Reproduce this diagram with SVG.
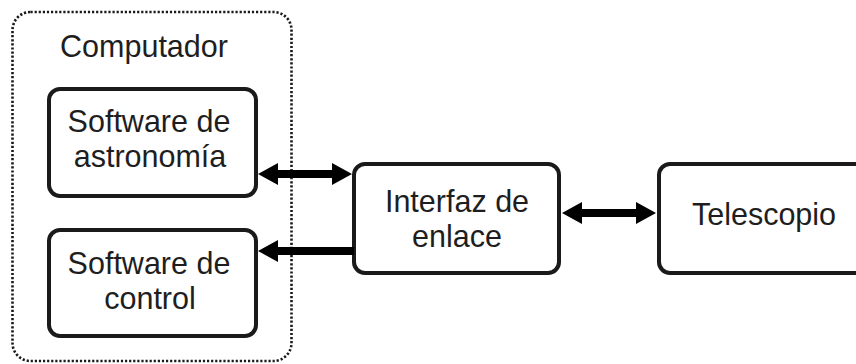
<svg xmlns="http://www.w3.org/2000/svg" width="856" height="364" viewBox="0 0 856 364">
  <style>
    .box { fill: #ffffff; stroke: #1a1a1a; stroke-width: 4; }
    .group { fill: none; stroke: #1a1a1a; stroke-width: 2.6; stroke-dasharray: 2.2 1.9; }
    .label { font-family: "Liberation Sans", Arial, sans-serif; font-size: 30.5px; fill: #1e1e1e; text-anchor: middle; }
    .arrow { fill: #000000; }
  </style>
  <rect width="856" height="364" fill="#ffffff"/>

  <g id="computador">
    <rect class="group" x="12.5" y="12" width="279" height="349" rx="18"/>
    <text class="label" x="144" y="57">Computador</text>
  </g>

  <g id="software-astronomia">
    <rect class="box" x="49" y="89" width="207" height="107" rx="11"/>
    <text class="label" x="149" y="132">Software de</text>
    <text class="label" x="150" y="167">astronomía</text>
  </g>

  <g id="software-control">
    <rect class="box" x="49" y="230" width="207" height="106" rx="11"/>
    <text class="label" x="149" y="274">Software de</text>
    <text class="label" x="150" y="309">control</text>
  </g>

  <g id="interfaz">
    <rect class="box" x="354" y="164" width="205" height="109" rx="11"/>
    <text class="label" x="457" y="212">Interfaz de</text>
    <text class="label" x="457" y="247">enlace</text>
  </g>

  <g id="telescopio">
    <rect class="box" x="659" y="164" width="220" height="109" rx="11"/>
    <text class="label" x="764" y="225">Telescopio</text>
  </g>

  <g id="connectors">
    <!-- astronomy software <-> link interface -->
    <polygon class="arrow" points="258,174 278,163 278,170 332,170 332,163 352,174 332,185 332,178 278,178 278,185"/>
    <!-- link interface -> control software -->
    <polygon class="arrow" points="258,251 278,240 278,247 354,247 354,255 278,255 278,262"/>
    <!-- link interface <-> telescope -->
    <polygon class="arrow" points="562,213 582,202 582,209 636,209 636,202 656,213 636,224 636,217 582,217 582,224"/>
  </g>
</svg>
